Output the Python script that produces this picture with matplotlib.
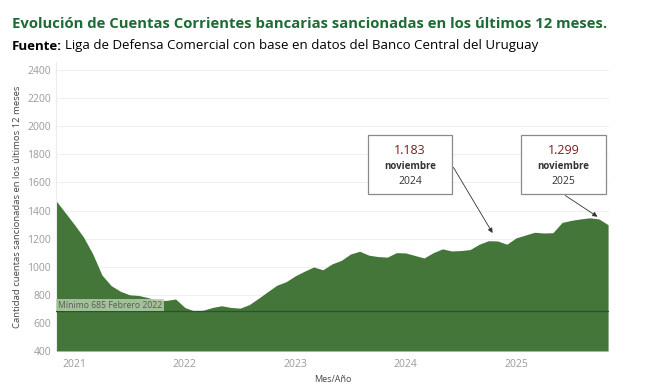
import matplotlib
matplotlib.use('Agg')
import matplotlib.pyplot as plt
import numpy as np

plt.rcParams['font.family'] = ['Open Sans', 'DejaVu Sans']

# monthly series, Nov 2020 .. Nov 2025
meses = ['nov-2020', 'dic-2020',
         'ene-2021', 'feb-2021', 'mar-2021', 'abr-2021', 'may-2021', 'jun-2021',
         'jul-2021', 'ago-2021', 'sep-2021', 'oct-2021', 'nov-2021', 'dic-2021',
         'ene-2022', 'feb-2022', 'mar-2022', 'abr-2022', 'may-2022', 'jun-2022',
         'jul-2022', 'ago-2022', 'sep-2022', 'oct-2022', 'nov-2022', 'dic-2022',
         'ene-2023', 'feb-2023', 'mar-2023', 'abr-2023', 'may-2023', 'jun-2023',
         'jul-2023', 'ago-2023', 'sep-2023', 'oct-2023', 'nov-2023', 'dic-2023',
         'ene-2024', 'feb-2024', 'mar-2024', 'abr-2024', 'may-2024', 'jun-2024',
         'jul-2024', 'ago-2024', 'sep-2024', 'oct-2024', 'nov-2024', 'dic-2024',
         'ene-2025', 'feb-2025', 'mar-2025', 'abr-2025', 'may-2025', 'jun-2025',
         'jul-2025', 'ago-2025', 'sep-2025', 'oct-2025', 'nov-2025']
cuentas = [1470, 1385,
           1300, 1210, 1090, 940, 865, 825,
           800, 795, 780, 760, 760, 770,
           710, 685, 690, 710, 722, 710,
           705, 730, 775, 822, 868, 893,
           935, 968, 998, 978, 1020, 1045,
           1090, 1110, 1082, 1072, 1068, 1100,
           1098, 1080, 1062, 1100, 1127, 1112,
           1115, 1122, 1160, 1185, 1183, 1160,
           1205, 1225, 1245, 1240, 1242, 1315,
           1330, 1340, 1348, 1340, 1299]
anios = ['2021', '2022', '2023', '2024', '2025']
minimo = 685
destacados = ['nov-2024', 'nov-2025']

x = np.arange(len(meses))
verde = '#44763a'
W, H = 660, 390

fig = plt.figure(figsize=(6.6, 3.9), dpi=100)
ax = fig.add_axes([56/W, 1-351/H, (609-56)/W, (351-62)/H])

ax.fill_between(x, cuentas, 400, color=verde, lw=0, zorder=2)
ax.axhline(minimo, color='#2c5527', lw=1.0, zorder=3)
ax.text(0.2, minimo + 10, 'Mínimo 685 Febrero 2022', fontsize=6.2, color='#5a5a5a',
        va='bottom', ha='left', zorder=4,
        bbox=dict(boxstyle='square,pad=0.2', fc='#b3cfa9', ec='none', alpha=0.85))

ax.set_xlim(0, 60.1)
ax.set_ylim(400, 2457)
ax.set_yticks(range(400, 2401, 200))
ax.set_xticks([meses.index('ene-' + a) for a in anios])
ax.set_xticklabels(anios)
ax.tick_params(axis='both', length=0, labelsize=7.5, labelcolor='#9a9a9a')
ax.tick_params(axis='x', pad=6)
ax.grid(axis='y', color='#f0f0f0', lw=0.8, zorder=0)
for s in ['top', 'right', 'bottom']:
    ax.spines[s].set_visible(False)
ax.spines['left'].set_color('#ececec')
ax.set_ylabel('Cantidad cuentas sancionadas en los últimos 12 meses',
              fontsize=6.8, color='#444444', labelpad=4)
ax.set_xlabel('Mes/Año', fontsize=6.5, color='#444444', labelpad=3)

# callouts (box left, right in pixels)
cajas = [(368, 452), (521, 606)]
for mes, (x0, x1) in zip(destacados, cajas):
    i = meses.index(mes)
    v = cuentas[i]
    mes_txt = {'nov': 'noviembre'}[mes[:3]]
    anio = mes[4:]
    cx = (x0 + x1) / 2 / W
    fig.patches.append(plt.Rectangle((x0/W, 1-194/H), (x1-x0)/W, 59/H,
                                     transform=fig.transFigure, fc='white',
                                     ec='#8a8a8a', lw=0.9, zorder=5))
    fig.text(cx, 1-151/H, f'{v/1000:.3f}', ha='center', va='center',
             fontsize=9, color='#7a1f1f', zorder=6)
    fig.text(cx, 1-166/H, mes_txt, ha='center', va='center',
             fontsize=7, fontweight='bold', color='#333333', zorder=6)
    fig.text(cx, 1-181/H, anio, ha='center', va='center',
             fontsize=7.5, color='#333333', zorder=6)

i1 = meses.index(destacados[0])
ax.annotate('', xy=(i1 - 0.4, cuentas[i1] + 40), xytext=(452/W, 1-165/H),
            textcoords='figure fraction',
            arrowprops=dict(arrowstyle='-|>', color='#333333', lw=0.6, mutation_scale=7), zorder=6)
i2 = meses.index(destacados[1])
ax.annotate('', xy=(i2 - 0.9, cuentas[i2 - 1] + 5), xytext=(563/W, 1-194/H),
            textcoords='figure fraction',
            arrowprops=dict(arrowstyle='-|>', color='#333333', lw=0.6, mutation_scale=7), zorder=6)

fig.text(12/W, 1-24/H, 'Evolución de Cuentas Corrientes bancarias sancionadas en los últimos 12 meses.',
         fontsize=10.7, fontweight='bold', color='#1f6b35', va='center', ha='left')
t = fig.text(12/W, 1-46/H, 'Fuente:', fontsize=9.5, fontweight='bold', color='black',
             va='center', ha='left')
fig.canvas.draw()
bb = t.get_window_extent()
fig.text(bb.x1/W + 0.004, 1-46/H, 'Liga de Defensa Comercial con base en datos del Banco Central del Uruguay',
         fontsize=9.5, color='black', va='center', ha='left')

fig.savefig('out.png', dpi=100)
